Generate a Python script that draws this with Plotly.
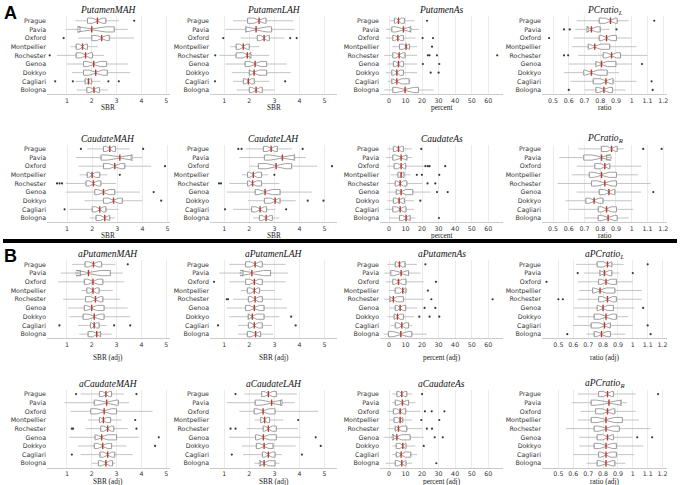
import plotly.graph_objects as go

SITES = ["Prague", "Pavia", "Oxford", "Montpellier", "Rochester", "Genoa", "Dokkyo", "Cagliari", "Bologna"]
SITE_N = [30, 14, 30, 30, 30, 30, 30, 30, 22]

# ---------------- A: raw ----------------
PMAH_LO = [1.35, 0.95, 1.45, 1.15, 0.60, 1.00, 1.20, 1.35, 1.40]
PMAH_Q1 = [1.83, 1.53, 2.00, 1.37, 1.37, 1.67, 1.67, 1.73, 1.80]
PMAH_MED = [2.23, 2.00, 2.40, 1.63, 1.75, 2.08, 2.16, 1.87, 2.09]
PMAH_Q3 = [2.57, 2.91, 2.71, 1.83, 2.03, 2.60, 2.63, 2.00, 2.31]
PMAH_HI = [3.10, 3.45, 3.70, 2.25, 2.50, 3.45, 3.55, 2.35, 2.65]
PMAH_OUT = [[3.71], [], [0.87], [], [0.31], [], [], [0.53, 1.24, 2.67, 3.09], []]

PLAH_LO = [1.35, 1.05, 1.65, 1.25, 0.80, 1.05, 1.30, 1.35, 1.50]
PLAH_Q1 = [1.93, 1.87, 2.32, 1.47, 1.47, 1.83, 2.00, 1.76, 2.00]
PLAH_MED = [2.39, 2.27, 2.59, 1.76, 1.92, 2.23, 2.19, 1.96, 2.27]
PLAH_Q3 = [2.67, 2.89, 2.80, 2.00, 2.03, 2.69, 2.69, 2.20, 2.52]
PLAH_HI = [3.75, 3.80, 3.40, 2.40, 2.80, 3.50, 3.65, 2.80, 3.00]
PLAH_OUT = [[], [], [0.96, 3.63, 3.89], [], [0.64], [], [], [0.63, 3.43], []]

PAS_LO = [0.5, -2.0, -2.0, 2.0, -3.0, -1.0, -2.0, -1.0, -3.0]
PAS_Q1 = [3.2, 1.6, 2.2, 6.3, 2.2, 2.6, 1.6, 1.6, 2.2]
PAS_MED = [5.7, 8.7, 5.3, 10.3, 6.1, 5.7, 4.7, 4.7, 9.7]
PAS_Q3 = [9.3, 12.8, 8.7, 12.4, 9.7, 8.7, 8.7, 12.2, 17.8]
PAS_HI = [15.5, 18.0, 16.0, 17.0, 17.0, 17.0, 17.0, 13.0, 27.0]
PAS_OUT = [[23.0], [], [20.3, 26.6], [26.0], [23.5, 24.5, 29.0, 65.5], [20.5, 30.4], [25.2, 30.0], [], []]

PCL_LO = [0.65, 0.64, 0.63, 0.62, 0.66, 0.60, 0.57, 0.61, 0.70]
PCL_Q1 = [0.793, 0.723, 0.793, 0.723, 0.818, 0.772, 0.695, 0.755, 0.772]
PCL_MED = [0.865, 0.744, 0.840, 0.765, 0.872, 0.808, 0.744, 0.836, 0.823]
PCL_Q3 = [0.908, 0.800, 0.903, 0.860, 0.929, 0.900, 0.844, 0.882, 0.878]
PCL_HI = [0.98, 0.86, 1.00, 1.03, 1.10, 1.00, 0.92, 1.03, 0.96]
PCL_OUT = [[1.143], [0.57, 0.606, 0.903], [0.475], [], [0.57, 0.596], [1.065], [], [1.126], [0.60, 1.133]]

CMAH_LO = [1.80, 1.35, 1.45, 1.50, 0.95, 0.95, 1.70, 1.10, 1.90]
CMAH_Q1 = [2.45, 2.35, 2.45, 1.80, 1.75, 2.10, 2.45, 2.00, 2.15]
CMAH_MED = [2.70, 3.10, 2.90, 2.00, 2.05, 2.45, 2.85, 2.30, 2.50]
CMAH_Q3 = [2.93, 3.55, 3.30, 2.30, 2.35, 2.90, 3.20, 2.55, 2.70]
CMAH_HI = [3.50, 4.00, 4.35, 2.60, 2.95, 3.90, 4.00, 3.05, 2.90]
CMAH_OUT = [[1.55, 4.03], [], [4.90], [3.10], [0.60, 0.70, 0.80], [4.45], [4.75], [0.90], []]

CLAH_LO = [1.85, 1.60, 2.00, 1.70, 1.20, 1.10, 1.95, 1.35, 2.15]
CLAH_Q1 = [2.56, 2.60, 2.36, 1.93, 1.93, 2.23, 2.60, 2.09, 2.40]
CLAH_MED = [2.87, 3.32, 3.07, 2.16, 2.13, 2.63, 3.03, 2.43, 2.67]
CLAH_Q3 = [3.12, 3.79, 3.69, 2.49, 2.49, 3.23, 3.23, 2.69, 2.92]
CLAH_HI = [3.70, 4.25, 4.70, 2.75, 3.20, 4.50, 3.85, 3.05, 3.20]
CLAH_OUT = [[1.56, 1.69, 4.13], [], [5.30], [3.00], [0.79, 0.87], [], [4.33, 4.96], [1.03, 3.47], []]

CAS_LO = [-1.0, -2.0, -1.0, 1.0, -1.0, -1.0, -1.0, -2.0, 0.0]
CAS_Q1 = [2.6, 2.2, 3.0, 5.3, 3.7, 4.3, 2.6, 2.2, 6.3]
CAS_MED = [5.7, 7.3, 7.3, 7.3, 6.7, 7.3, 6.1, 6.7, 10.3]
CAS_Q3 = [8.7, 10.8, 10.1, 9.1, 10.8, 14.4, 9.3, 10.3, 12.8]
CAS_HI = [14.0, 14.0, 21.0, 13.0, 20.0, 25.0, 15.0, 15.0, 16.0]
CAS_OUT = [[19.5], [], [22.0, 23.5, 24.5, 34.0], [16.8, 19.9, 30.4], [23.3, 28.0], [29.0, 35.5], [18.9], [], [30.2]]

PCR_LO = [0.66, 0.54, 0.65, 0.62, 0.53, 0.65, 0.58, 0.60, 0.70]
PCR_Q1 = [0.808, 0.695, 0.765, 0.730, 0.744, 0.793, 0.708, 0.787, 0.787]
PCR_MED = [0.872, 0.808, 0.829, 0.808, 0.829, 0.855, 0.761, 0.840, 0.850]
PCR_Q3 = [0.908, 0.840, 0.861, 0.903, 0.903, 0.893, 0.818, 0.903, 0.908]
PCR_HI = [0.95, 0.87, 1.06, 1.04, 1.12, 1.06, 1.00, 1.01, 0.98]
PCR_OUT = [[1.073, 1.19], [], [], [], [], [1.137], [], [], []]

# ---------------- B: adjusted ----------------
APMAH_LO = [1.20, 0.75, 0.65, 1.60, 0.85, 1.05, 1.10, 1.45, 1.50]
APMAH_Q1 = [1.73, 1.55, 1.70, 1.80, 1.75, 1.70, 1.65, 1.95, 1.85]
APMAH_MED = [2.07, 1.87, 2.05, 2.05, 2.15, 2.00, 2.10, 2.10, 2.20]
APMAH_Q3 = [2.40, 2.75, 2.45, 2.30, 2.45, 2.50, 2.50, 2.30, 2.35]
APMAH_HI = [2.95, 3.25, 3.30, 2.85, 3.15, 3.45, 3.55, 2.60, 2.80]
APMAH_OUT = [[3.45], [], [], [], [], [], [], [0.70, 2.90, 3.55], []]

APLAH_LO = [1.20, 0.80, 1.20, 1.65, 1.35, 1.10, 1.20, 1.55, 1.55]
APLAH_Q1 = [1.85, 1.75, 1.85, 1.92, 1.96, 1.85, 1.96, 1.96, 1.92]
APLAH_MED = [2.23, 2.10, 2.20, 2.20, 2.23, 2.20, 2.12, 2.20, 2.25]
APLAH_Q3 = [2.52, 2.85, 2.52, 2.41, 2.52, 2.59, 2.59, 2.52, 2.45]
APLAH_HI = [3.45, 3.55, 3.45, 3.00, 3.30, 3.50, 3.20, 2.90, 2.95]
APLAH_OUT = [[], [], [0.59], [], [1.10, 1.15], [], [3.67], [0.75, 3.85], []]

APAS_LO = [-1.0, -3.0, -2.0, 0.0, -3.0, 0.0, -1.0, 1.0, -3.0]
APAS_Q1 = [3.7, 1.0, 2.2, 3.7, 0.6, 3.7, 3.0, 3.7, -0.4]
APAS_MED = [6.3, 7.3, 5.7, 8.3, 2.6, 6.7, 5.1, 7.7, 7.1]
APAS_Q3 = [9.7, 11.8, 10.3, 10.3, 8.7, 10.1, 8.7, 11.8, 13.8]
APAS_HI = [17.0, 19.0, 21.0, 11.0, 21.0, 17.0, 15.0, 14.0, 23.0]
APAS_OUT = [[22.0], [], [28.4], [23.5], [25.6, 62.7], [21.5, 28.0], [18.3, 24.5, 30.4], [], []]

APCL_LO = [0.62, 0.67, 0.63, 0.64, 0.63, 0.60, 0.63, 0.60, 0.69]
APCL_Q1 = [0.76, 0.78, 0.77, 0.73, 0.77, 0.76, 0.74, 0.72, 0.74]
APCL_MED = [0.83, 0.81, 0.82, 0.78, 0.83, 0.80, 0.82, 0.81, 0.79]
APCL_Q3 = [0.86, 0.86, 0.89, 0.88, 0.89, 0.87, 0.89, 0.85, 0.85]
APCL_HI = [0.94, 0.91, 1.00, 1.06, 1.06, 1.01, 0.97, 1.00, 0.95]
APCL_OUT = [[1.10], [0.63, 1.00], [0.42], [], [0.50, 0.53], [1.07], [], [1.10], [0.56, 1.12]]

ACMAH_LO = [1.55, 0.90, 1.15, 1.85, 1.75, 1.10, 1.45, 1.55, 2.00]
ACMAH_Q1 = [2.31, 2.10, 1.96, 2.31, 2.36, 2.13, 2.10, 2.33, 2.27]
ACMAH_MED = [2.57, 2.60, 2.50, 2.47, 2.64, 2.40, 2.44, 2.64, 2.57]
ACMAH_Q3 = [2.80, 3.07, 3.00, 2.76, 2.89, 3.00, 2.80, 2.93, 2.84]
ACMAH_HI = [3.30, 3.50, 4.45, 3.20, 3.45, 3.90, 3.40, 3.65, 2.95]
ACMAH_OUT = [[1.37, 3.80], [], [], [3.75], [1.20, 1.25, 3.80], [4.70], [4.55], [1.20], []]

ACLAH_LO = [1.80, 1.10, 1.60, 2.20, 1.90, 1.20, 1.70, 1.75, 2.20]
ACLAH_Q1 = [2.49, 2.23, 2.19, 2.45, 2.55, 2.25, 2.28, 2.52, 2.45]
ACLAH_MED = [2.76, 2.89, 2.55, 2.61, 2.76, 2.56, 2.59, 2.76, 2.59]
ACLAH_Q3 = [3.08, 3.25, 3.03, 2.81, 3.08, 3.08, 2.95, 3.03, 3.03]
ACLAH_HI = [3.90, 3.80, 4.75, 3.35, 3.95, 4.05, 3.85, 3.30, 3.20]
ACLAH_OUT = [[1.45], [], [], [3.95], [1.25, 1.45], [4.65], [4.85], [1.30, 4.10], []]

ACAS_LO = [2.0, 2.0, -1.0, 0.0, -1.0, -3.0, 2.0, 2.0, -2.0]
ACAS_Q1 = [4.7, 3.7, 2.6, 3.0, 3.7, 2.6, 4.3, 4.3, 3.7]
ACAS_MED = [7.7, 8.1, 6.7, 6.7, 5.7, 4.7, 8.3, 7.3, 7.7]
ACAS_Q3 = [10.8, 11.8, 10.1, 8.3, 10.8, 12.8, 10.3, 13.2, 10.3]
ACAS_HI = [14.0, 16.0, 19.0, 14.0, 20.0, 21.0, 16.0, 17.0, 14.0]
ACAS_OUT = [[20.0], [], [21.7, 25.8, 33.5], [19.5, 30.4], [22.9, 26.0], [27.6, 32.5], [21.0], [], [28.6]]

APCR_LO = [0.63, 0.59, 0.65, 0.63, 0.55, 0.64, 0.64, 0.60, 0.69]
APCR_Q1 = [0.77, 0.72, 0.75, 0.72, 0.74, 0.76, 0.74, 0.77, 0.76]
APCR_MED = [0.83, 0.84, 0.83, 0.82, 0.82, 0.83, 0.82, 0.82, 0.82]
APCR_Q3 = [0.87, 0.92, 0.88, 0.93, 0.91, 0.87, 0.89, 0.89, 0.88]
APCR_HI = [1.02, 0.96, 1.02, 1.04, 1.12, 1.00, 1.07, 1.01, 0.95]
APCR_OUT = [[1.17], [], [], [], [], [1.03, 1.13], [], [], []]

SBR_TICKS = [1, 2, 3, 4, 5]
PCT_TICKS = [0, 10, 20, 30, 40, 50, 60]
RAT_TICKS = [0.5, 0.6, 0.7, 0.8, 0.9, 1.0, 1.1, 1.2]
RAT_TEXT = ["0.5", "0.6", "0.7", "0.8", "0.9", "1", "1.1", "1.2"]

PANELS = [
    ("<i>PutamenMAH</i>", "SBR", PMAH_LO, PMAH_Q1, PMAH_MED, PMAH_Q3, PMAH_HI, PMAH_OUT, [0.2, 5.15], SBR_TICKS, None),
    ("<i>PutamenLAH</i>", "SBR", PLAH_LO, PLAH_Q1, PLAH_MED, PLAH_Q3, PLAH_HI, PLAH_OUT, [0.43, 5.5], SBR_TICKS, None),
    ("<i>PutamenAs</i>", "percent", PAS_LO, PAS_Q1, PAS_MED, PAS_Q3, PAS_HI, PAS_OUT, [-5.5, 69], PCT_TICKS, None),
    ("<i>PCratio</i><sub><i>L</i></sub>", "ratio", PCL_LO, PCL_Q1, PCL_MED, PCL_Q3, PCL_HI, PCL_OUT, [0.43, 1.224], RAT_TICKS, RAT_TEXT),
    ("<i>CaudateMAH</i>", "SBR", CMAH_LO, CMAH_Q1, CMAH_MED, CMAH_Q3, CMAH_HI, CMAH_OUT, [0.2, 5.1], SBR_TICKS, None),
    ("<i>CaudateLAH</i>", "SBR", CLAH_LO, CLAH_Q1, CLAH_MED, CLAH_Q3, CLAH_HI, CLAH_OUT, [0.43, 5.5], SBR_TICKS, None),
    ("<i>CaudateAs</i>", "percent", CAS_LO, CAS_Q1, CAS_MED, CAS_Q3, CAS_HI, CAS_OUT, [-5.5, 69], PCT_TICKS, None),
    ("<i>PCratio</i><sub><i>R</i></sub>", "ratio", PCR_LO, PCR_Q1, PCR_MED, PCR_Q3, PCR_HI, PCR_OUT, [0.43, 1.224], RAT_TICKS, RAT_TEXT),
    ("<i>aPutamenMAH</i>", "SBR (adj)", APMAH_LO, APMAH_Q1, APMAH_MED, APMAH_Q3, APMAH_HI, APMAH_OUT, [0.2, 5.15], SBR_TICKS, None),
    ("<i>aPutamenLAH</i>", "SBR (adj)", APLAH_LO, APLAH_Q1, APLAH_MED, APLAH_Q3, APLAH_HI, APLAH_OUT, [0.43, 5.5], SBR_TICKS, None),
    ("<i>aPutamenAs</i>", "percent (adj)", APAS_LO, APAS_Q1, APAS_MED, APAS_Q3, APAS_HI, APAS_OUT, [-5.5, 69], PCT_TICKS, None),
    ("<i>aPCratio</i><sub><i>L</i></sub>", "ratio (adj)", APCL_LO, APCL_Q1, APCL_MED, APCL_Q3, APCL_HI, APCL_OUT, [0.39, 1.23], RAT_TICKS, RAT_TEXT),
    ("<i>aCaudateMAH</i>", "SBR (adj)", ACMAH_LO, ACMAH_Q1, ACMAH_MED, ACMAH_Q3, ACMAH_HI, ACMAH_OUT, [0.2, 5.15], SBR_TICKS, None),
    ("<i>aCaudateLAH</i>", "SBR (adj)", ACLAH_LO, ACLAH_Q1, ACLAH_MED, ACLAH_Q3, ACLAH_HI, ACLAH_OUT, [0.43, 5.5], SBR_TICKS, None),
    ("<i>aCaudateAs</i>", "percent (adj)", ACAS_LO, ACAS_Q1, ACAS_MED, ACAS_Q3, ACAS_HI, ACAS_OUT, [-5.5, 69], PCT_TICKS, None),
    ("<i>aPCratio</i><sub><i>R</i></sub>", "ratio (adj)", APCR_LO, APCR_Q1, APCR_MED, APCR_Q3, APCR_HI, APCR_OUT, [0.39, 1.23], RAT_TICKS, RAT_TEXT),
]

W, H = 680, 485
COL_PX = [(47, 170), (210, 337), (380, 503), (542, 667)]
ROW_PX = [(16.4, 94.3), (144.6, 222.3), (260.0, 338.5), (389.7, 467.6)]
XTITLE_OFF = [13.0, 13.0, 18.5, 14.0]

SERIF = "Liberation Serif, Times New Roman, serif"
SANS = "DejaVu Sans, Arial, sans-serif"

fig = go.Figure()
annotations = []
layout_axes = {}

for k, (title, xlabel, lo, q1, med, q3, hi, out, xr, tv, tt) in enumerate(PANELS):
    r, c = divmod(k, 4)
    idx = k + 1
    xa = "x" if idx == 1 else f"x{idx}"
    ya = "y" if idx == 1 else f"y{idx}"
    # whiskers
    wx, wy = [], []
    for s, a, b, cc, d in zip(SITES, lo, q1, q3, hi):
        wx += [a, b, None, cc, d, None]
        wy += [s, s, None, s, s, None]
    fig.add_trace(go.Scatter(x=wx, y=wy, mode="lines", line=dict(color="#c4c4c4", width=1),
                             xaxis=xa, yaxis=ya, showlegend=False, hoverinfo="skip"))
    notch = [1.57 * (b - a) / (n ** 0.5) for a, b, n in zip(q1, q3, SITE_N)]
    fig.add_trace(go.Box(orientation="h", y=SITES, q1=q1, median=med, q3=q3,
                         lowerfence=q1, upperfence=q3, notched=True, notchspan=notch,
                         notchwidth=0.4, width=0.6, fillcolor="white",
                         line=dict(color="#8a8a8a", width=0.8), boxpoints=False,
                         xaxis=xa, yaxis=ya, showlegend=False))
    fig.add_trace(go.Scatter(x=med, y=SITES, mode="markers",
                             marker=dict(symbol="line-ns", size=4.5, line=dict(color="#c0392b", width=1.4)),
                             xaxis=xa, yaxis=ya, showlegend=False, hoverinfo="skip"))
    ox, oy = [], []
    for s, vals in zip(SITES, out):
        for v in vals:
            ox.append(v)
            oy.append(s)
    fig.add_trace(go.Scatter(x=ox, y=oy, mode="markers",
                             marker=dict(size=2.2, color="#3a3a3a"),
                             xaxis=xa, yaxis=ya, showlegend=False, hoverinfo="skip"))

    x0, x1 = COL_PX[c]
    y0, y1 = ROW_PX[r]
    xkey = "xaxis" if idx == 1 else f"xaxis{idx}"
    ykey = "yaxis" if idx == 1 else f"yaxis{idx}"
    layout_axes[xkey] = dict(
        domain=[x0 / W, x1 / W], anchor=ya, range=xr, tickvals=tv,
        ticktext=tt if tt else [str(v) for v in tv],
        showgrid=True, gridcolor="#e6e6e6", gridwidth=0.8, zeroline=False,
        showline=True, linecolor="#bdbdbd", linewidth=0.8, ticks="",
        tickfont=dict(family=SANS, size=6.3, color="#333"),
        automargin=False,
    )
    layout_axes[ykey] = dict(
        domain=[1 - y1 / H, 1 - y0 / H], anchor=xa, type="category",
        categoryorder="array", categoryarray=SITES, range=[8.5, -0.5],
        showgrid=False, zeroline=False, showline=False, ticks="",
        tickfont=dict(family=SANS, size=6.3, color="#333"), automargin=False,
    )
    annotations.append(dict(text=title, x=(x0 + x1) / 2 / W, y=1 - (y0 - 6) / H,
                            xref="paper", yref="paper", showarrow=False,
                            xanchor="center", yanchor="middle",
                            font=dict(family=SERIF, size=9.5, color="#111")))
    annotations.append(dict(text=xlabel, x=(x0 + x1) / 2 / W, y=1 - (y1 + XTITLE_OFF[r]) / H,
                            xref="paper", yref="paper", showarrow=False,
                            xanchor="center", yanchor="middle",
                            font=dict(family=SERIF, size=7.3, color="#222")))

annotations.append(dict(text="<b>A</b>", x=2 / W, y=1 - 1 / H, xref="paper", yref="paper",
                        showarrow=False, xanchor="left", yanchor="top",
                        font=dict(family="Liberation Sans, Arial, sans-serif", size=18, color="#000")))
annotations.append(dict(text="<b>B</b>", x=2 / W, y=1 - 244 / H, xref="paper", yref="paper",
                        showarrow=False, xanchor="left", yanchor="top",
                        font=dict(family="Liberation Sans, Arial, sans-serif", size=18, color="#000")))

fig.update_layout(
    width=W, height=H, margin=dict(l=0, r=0, t=0, b=0),
    paper_bgcolor="white", plot_bgcolor="white",
    annotations=annotations,
    shapes=[dict(type="line", xref="paper", yref="paper", x0=3 / W, x1=677 / W,
                 y0=1 - 241 / H, y1=1 - 241 / H, line=dict(color="black", width=4))],
    **layout_axes,
)

fig.write_html("out.html", config={"displayModeBar": False, "staticPlot": True},
               post_script="document.body.style.margin='0px';document.body.style.padding='0px';")
